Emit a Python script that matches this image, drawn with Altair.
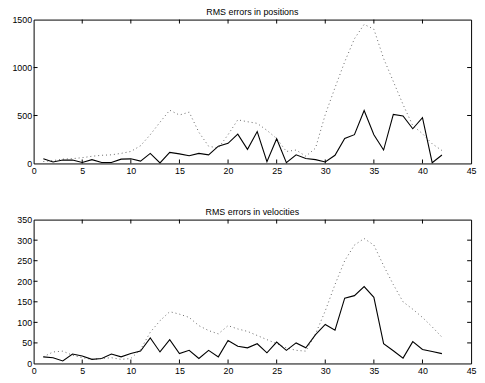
import altair as alt
import pandas as pd

steps = list(range(1, 43))

pos_solid = [50, 15, 35, 35, 10, 40, 10, 10, 45, 48, 25, 105, 5, 115, 100, 80, 105, 90, 180, 210,
             305, 147, 332, 18, 258, 8, 90, 52, 40, 15, 85, 260, 300, 552, 300, 140, 512, 495, 362, 478,
             8, 88]
pos_dotted = [20, 30, 45, 50, 60, 75, 85, 90, 105, 125, 185, 300, 430, 555, 505, 535, 325, 180, 160, 300,
              455, 435, 418, 345, 260, 125, 140, 75, 160, 510, 790, 1060, 1300, 1450, 1400, 1095, 855, 615, 395, 310,
              205, 135]
vel_solid = [16, 14, 6, 23, 18, 10, 12, 23, 16, 24, 30, 62, 28, 58, 24, 32, 12, 32, 16, 56,
             42, 38, 48, 26, 52, 32, 50, 38, 70, 95, 81, 159, 165, 187, 161, 48, 31, 13, 53, 34,
             29, 24]
vel_dotted = [16, 28, 30, 20, 14, 10, 12, 14, 10, 12, 34, 76, 104, 126, 120, 112, 92, 80, 72, 92,
              84, 78, 68, 58, 48, 38, 32, 30, 72, 128, 192, 250, 288, 304, 288, 238, 192, 150, 132, 112,
              89, 64]

x_ticks = [0, 5, 10, 15, 20, 25, 30, 35, 40, 45]
pos_ticks = [0, 500, 1000, 1500]
vel_ticks = [0, 50, 100, 150, 200, 250, 300, 350]

titles = ["RMS errors in positions", "RMS errors in velocities"]

W, H = 444, 146
FONT = "Liberation Sans"
TL = 4


def panel(title, solid, dotted, yticks):
    df = pd.DataFrame({"step": steps, "solid": solid, "dotted": dotted})
    xs = alt.Scale(domain=[x_ticks[0], x_ticks[-1]], nice=False, zero=False)
    ys = alt.Scale(domain=[yticks[0], yticks[-1]], nice=False)
    xaxis = alt.Axis(values=x_ticks, tickSize=0, grid=False, domain=False, labelPadding=3,
                     title=None, format="d", labelFlush=False)
    yaxis = alt.Axis(values=yticks, tickSize=0, grid=False, domain=False, labelPadding=2,
                     title=None, minExtent=25, maxExtent=25, format="d", labelFlush=False)
    X = lambda f: alt.X(f, scale=xs, axis=xaxis)
    Y = lambda f: alt.Y(f, scale=ys, axis=yaxis)
    base = alt.Chart(df)
    dotted_line = base.mark_line(color="#666666", strokeDash=[1, 3], strokeWidth=1).encode(
        x=X("step:Q"), y=Y("dotted:Q"))
    solid_line = base.mark_line(color="black", strokeWidth=1.1).encode(
        x=X("step:Q"), y=Y("solid:Q"))
    xt = alt.Chart(pd.DataFrame({"t": x_ticks[1:-1]}))
    yt = alt.Chart(pd.DataFrame({"t": yticks[1:-1]}))
    tick_style = dict(color="black", strokeWidth=1)
    bottom_ticks = xt.mark_rule(**tick_style).encode(x=X("t:Q"), y=alt.value(H), y2=alt.value(H - TL))
    top_ticks = xt.mark_rule(**tick_style).encode(x=X("t:Q"), y=alt.value(0), y2=alt.value(TL))
    left_ticks = yt.mark_rule(**tick_style).encode(y=Y("t:Q"), x=alt.value(0), x2=alt.value(TL))
    right_ticks = yt.mark_rule(**tick_style).encode(y=Y("t:Q"), x=alt.value(W), x2=alt.value(W - TL))
    return alt.layer(dotted_line, solid_line, bottom_ticks, top_ticks, left_ticks, right_ticks).properties(
        width=W, height=H,
        title=alt.Title(title, fontSize=9, fontWeight="normal", font=FONT, color="black", offset=-1))


chart = alt.vconcat(
    panel(titles[0], pos_solid, pos_dotted, pos_ticks),
    panel(titles[1], vel_solid, vel_dotted, vel_ticks),
    spacing=31,
).properties(padding={"top": -4, "left": 0, "right": 0, "bottom": 0}).configure_view(
    stroke="black", strokeWidth=1
).configure_axis(
    labelFont=FONT, labelFontSize=9, labelColor="black"
).configure_title(
    anchor="middle"
)

chart.save("out.html", embed_options={"renderer": "svg", "actions": False})
